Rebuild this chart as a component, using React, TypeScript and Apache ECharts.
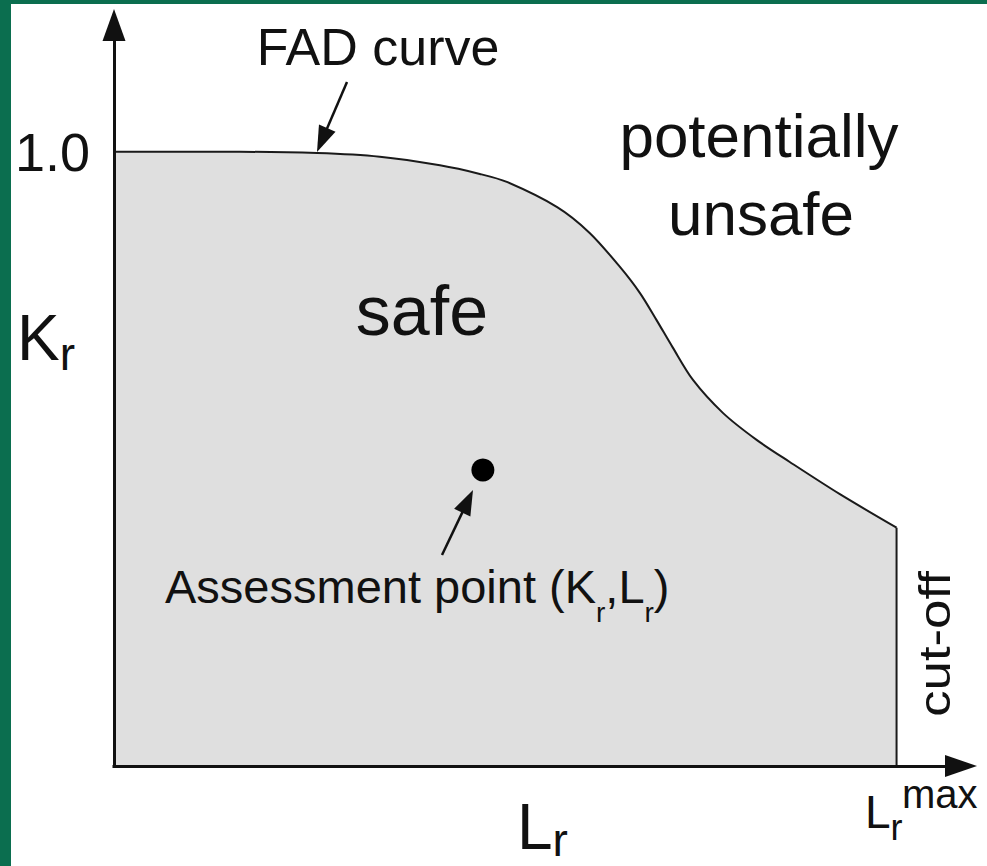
import React, { useEffect, useRef } from "react";
import * as echarts from "echarts";

// ---- data ----
const lrValues = [0, 0.205, 0.331, 0.433, 0.531, 0.596, 0.64, 0.722, 0.775, 0.824, 0.857, 0.884, 0.91, 0.943, 0.992, 1.047, 1.101, 1.182, 1.275];
const krValues = [1.0, 1.0, 0.998, 0.992, 0.978, 0.964, 0.951, 0.91, 0.868, 0.813, 0.77, 0.726, 0.682, 0.629, 0.575, 0.531, 0.495, 0.443, 0.388];
const cutoffLr = 1.275;
const assessmentPoint = [0.601, 0.482];
const krTickLabels = [1.0];
const lrAxisMax = 1.38;
const krAxisMax = 1.2;

const FONT = '"Liberation Sans", Arial, Helvetica, sans-serif';
const INK = "#111";
const GREEN = "#0b6e4f";

let measureCtx: CanvasRenderingContext2D | null = null;
function measure(text: string, size: number): number {
  if (!measureCtx) measureCtx = document.createElement("canvas").getContext("2d");
  if (!measureCtx) return text.length * size * 0.55;
  measureCtx.font = `${size}px ${FONT}`;
  return measureCtx.measureText(text).width;
}

function txt(text: string, size: number, x: number, baseline: number, align = "left", extra: any = {}) {
  return {
    type: "text",
    x,
    y: baseline - 0.347 * size,
    z: 20,
    ...extra,
    style: {
      text,
      font: `${size}px ${FONT}`,
      fill: INK,
      textAlign: align,
      textVerticalAlign: "middle",
    },
  };
}

type Part = { t: string; size: number; base: number };
function run(x0: number, parts: Part[]) {
  let x = x0;
  return parts.map((p) => {
    const el = txt(p.t, p.size, x, p.base);
    x += measure(p.t, p.size);
    return el;
  });
}

function arrow(x1: number, y1: number, x2: number, y2: number, len: number, w: number, lw: number) {
  const dx = x2 - x1;
  const dy = y2 - y1;
  const d = Math.hypot(dx, dy);
  const ux = dx / d;
  const uy = dy / d;
  const px = -uy;
  const py = ux;
  const bx = x2 - ux * len;
  const by = y2 - uy * len;
  return [
    { type: "line", z: 20, shape: { x1, y1, x2: bx + ux * 3, y2: by + uy * 3 }, style: { stroke: INK, lineWidth: lw } },
    {
      type: "polygon",
      z: 20,
      shape: { points: [[x2, y2], [bx + (px * w) / 2, by + (py * w) / 2], [bx - (px * w) / 2, by - (py * w) / 2]] },
      style: { fill: INK },
    },
  ];
}

export default function App() {
  const ref = useRef<HTMLDivElement>(null);
  useEffect(() => {
    if (!ref.current) return;
    const chart = echarts.init(ref.current, undefined, { renderer: "svg" });
    const graphics: any[] = [
      { type: "rect", z: 30, shape: { x: 0, y: 0, width: 11, height: 866 }, style: { fill: GREEN } },
      { type: "rect", z: 30, shape: { x: 0, y: 0, width: 987, height: 4 }, style: { fill: GREEN } },
      txt("FAD curve", 52, 378, 65, "center"),
      txt("potentially", 62, 759, 157, "center"),
      txt("unsafe", 62, 761, 235, "center"),
      txt("safe", 70, 422, 335, "center"),
      ...run(17, [
        { t: "K", size: 64, base: 360 },
        { t: "r", size: 46, base: 370 },
      ]),
      ...run(517, [
        { t: "L", size: 64, base: 849 },
        { t: "r", size: 46, base: 856 },
      ]),
      ...run(865, [
        { t: "L", size: 46, base: 828 },
        { t: "r", size: 36, base: 840 },
      ]),
      txt("max", 40, 902, 808),
      ...run(165, [
        { t: "Assessment point (K", size: 47, base: 603 },
        { t: "r", size: 28, base: 622 },
        { t: ",L", size: 47, base: 603 },
        { t: "r", size: 28, base: 622 },
        { t: ")", size: 47, base: 603 },
      ]),
      {
        type: "text",
        x: 950 - 0.347 * 44,
        y: 644,
        rotation: Math.PI / 2,
        scaleX: 1.2,
        z: 20,
        style: { text: "cut-off", font: `44px ${FONT}`, fill: INK, textAlign: "center", textVerticalAlign: "middle" },
      },
      ...arrow(347, 82, 317, 152, 26, 18, 2.5),
      ...arrow(442, 555, 473, 490, 25, 18, 2.5),
    ];

    chart.setOption({
      animation: false,
      backgroundColor: "#ffffff",
      grid: { left: 114, right: 26, top: 29, bottom: 100, containLabel: false },
      xAxis: {
        type: "value",
        min: 0,
        max: lrAxisMax,
        z: 5,
        axisLine: {
          show: true,
          symbol: ["none", "triangle"],
          symbolSize: [22, 32],
          lineStyle: { color: INK, width: 3, cap: "square" },
        },
        axisTick: { show: false },
        axisLabel: { show: false },
        splitLine: { show: false },
      },
      yAxis: {
        type: "value",
        min: 0,
        max: krAxisMax,
        interval: 1,
        z: 5,
        axisLine: {
          show: true,
          onZero: false,
          symbol: ["none", "triangle"],
          symbolSize: [23, 32],
          symbolOffset: [0, 4],
          lineStyle: { color: INK, width: 3, cap: "square" },
        },
        axisTick: { show: false },
        axisLabel: {
          formatter: (v: number) => (krTickLabels.includes(v) ? v.toFixed(1) : ""),
          fontSize: 54,
          fontFamily: FONT,
          color: INK,
          margin: 24,
          showMinLabel: false,
          showMaxLabel: false,
        },
        splitLine: { show: false },
      },
      series: [
        {
          type: "line",
          name: "FAD curve",
          data: lrValues.map((x, i) => [x, krValues[i]]),
          smooth: 0.3,
          symbol: "none",
          lineStyle: { color: "#1a1a1a", width: 2 },
          areaStyle: { color: "#dfdfdf", opacity: 1 },
          z: 2,
          silent: true,
        },
        {
          type: "line",
          name: "cut-off",
          data: [
            [cutoffLr, krValues[krValues.length - 1]],
            [cutoffLr, 0],
          ],
          symbol: "none",
          lineStyle: { color: "#1a1a1a", width: 2 },
          z: 3,
          silent: true,
        },
        {
          type: "scatter",
          name: "Assessment point",
          data: [assessmentPoint],
          symbolSize: 23,
          itemStyle: { color: "#000", opacity: 1 },
          z: 4,
          silent: true,
        },
      ],
      graphic: graphics,
    });
    return () => chart.dispose();
  }, []);
  return <div ref={ref} style={{ position: "fixed", left: 0, top: 0, width: 987, height: 866 }} />;
}
